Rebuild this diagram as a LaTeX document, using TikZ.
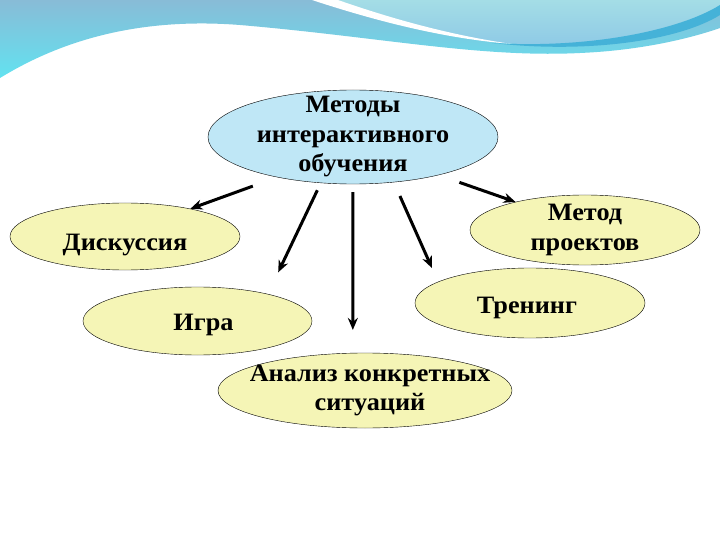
\documentclass[tikz,border=0pt]{standalone}
\usepackage{fontspec}
\setmainfont{Liberation Serif}[FakeStretch=1.05]
\usetikzlibrary{shapes.geometric,arrows.meta}

\definecolor{wavetop}{HTML}{88BCD7}
\definecolor{wavebottom}{HTML}{62E2F0}
\definecolor{wavelight}{HTML}{A4DDE6}
\definecolor{wavelightlow}{HTML}{8CC8E6}
\definecolor{wavestripe}{HTML}{45B2D8}
\definecolor{ovalblue}{HTML}{BFE7F6}
\definecolor{ovalyellow}{HTML}{F5F5B6}

% move a label down inside its oval, keeping the box size
\newcommand{\lowlabel}[2]{\raisebox{-#1}[\height][\depth]{#2}}

\tikzset{
	methodoval/.style={ellipse, draw=black, thin, fill=ovalyellow, inner sep=-30pt, align=center,
		font=\bfseries\fontsize{25}{29.5}\selectfont},
	mainoval/.style={methodoval, fill=ovalblue},
	arrowline/.style={line width=3pt, -{Stealth[length=12pt,width=10pt]}}
}

\begin{document}
\begin{tikzpicture}[x=1pt, y=-1pt]
	\useasboundingbox (0,0) rectangle (720,540);
	\fill[white] (0,0) rectangle (720,540);

	% wave banner at the top
	\shade[top color=wavetop, bottom color=wavebottom] (0,0) -- (720,0) -- (720,28)
		.. controls (700,35) and (650,50) .. (580,53)
		.. controls (480,58) and (380,37) .. (240,25)
		.. controls (150,18) and (70,35) .. (0,78) -- cycle;
	\shade[top color=wavelight, bottom color=wavelightlow] (320,0)
		.. controls (400,22) and (460,40) .. (505,43)
		.. controls (590,50) and (680,32) .. (720,10) -- (720,0) -- cycle;
	\fill[white] (312,0) .. controls (385,24) and (450,39) .. (512,44)
		.. controls (455,36) and (395,20) .. (338,0) -- cycle;
	\fill[wavestripe] (492,43) .. controls (590,49) and (680,30) .. (720,5)
		-- (720,15) .. controls (680,40) and (590,54) .. (492,43) -- cycle;

	% the ovals
	\node[mainoval, minimum width=290pt, minimum height=94pt] (methods) at (353,137) {Методы\\интерактивного\\обучения};
	\node[methodoval, minimum width=230pt, minimum height=67pt] (discussion) at (125,236.5) {\lowlabel{9pt}{Дискуссия}};
	\node[methodoval, minimum width=230pt, minimum height=70pt] (project) at (585,230) {Метод\\проектов};
	\node[methodoval, minimum width=229pt, minimum height=68pt] (game) at (197.5,321) {\hspace*{12pt}\lowlabel{4pt}{Игра}};
	\node[methodoval, minimum width=230pt, minimum height=70pt] (training) at (530,303) {\lowlabel{5pt}{Тренинг}\hspace*{6pt}};
	\node[methodoval, minimum width=294pt, minimum height=75pt] (analysis) at (365,390.5) {\hspace*{10pt}Анализ конкретных\\\hspace*{10pt}ситуаций};

	% arrows from the main oval
	\draw[arrowline, shorten <=26pt] (methods.208) -- (discussion.23);
	\draw[arrowline, shorten <=8pt, shorten >=24pt] (methods.235) -- (game.21);
	\draw[arrowline, shorten <=8pt, shorten >=23pt] (methods.south) -- (analysis.108);
	\draw[arrowline, shorten <=15pt, shorten >=15pt] (methods.312) -- (training.167);
	\draw[arrowline, shorten <=22pt] (methods.336) -- (project.158);
\end{tikzpicture}
\end{document}
